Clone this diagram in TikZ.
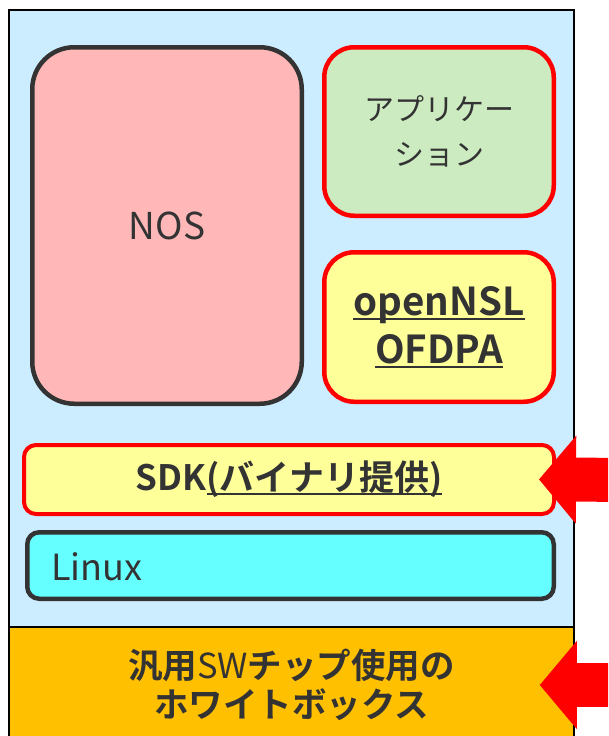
\documentclass[tikz,border=0pt]{standalone}
\usepackage{fontspec}
\setmainfont{Noto Sans CJK JP}[BoldFont={Noto Sans CJK JP Bold}]
\usetikzlibrary{arrows.meta}

\definecolor{textgray}{HTML}{333333}
\definecolor{bgblue}{HTML}{CCECFF}
\definecolor{nospink}{HTML}{FFB7B7}
\definecolor{appgreen}{HTML}{CCEBC0}
\definecolor{libyellow}{HTML}{FFFF99}
\definecolor{linuxcyan}{HTML}{66FFFF}
\definecolor{boxorange}{HTML}{FFC000}

% underline that crosses descenders
\newcommand{\ulx}[1]{\setbox0\hbox{#1}\rlap{\rule[-4.5pt]{\wd0}{2pt}}\box0}

\begin{document}
\begin{tikzpicture}[x=1pt,y=-1pt,
    layer/.style={rectangle, line width=4.5pt, draw=textgray, text=textgray,
        inner sep=0pt, rounded corners=#1},
    layer/.default=12pt,
    fatarrow/.style={red, line width=44pt, -{Triangle[length=37pt,width=86pt]}}]

% ---- Frame ----
\useasboundingbox (0,0) rectangle (608,736);
\fill[white] (0,0) rectangle (608,736);
\clip (0,0) rectangle (608,736);

% ---- Coordinates ----
\coordinate (arr1) at (640,480);   % SDK arrow start
\coordinate (arr2) at (640,685);   % whitebox arrow start

% ---- Board ----
\node[draw=black, line width=1.5pt, fill=bgblue, minimum width=565pt,
    minimum height=617pt, inner sep=0pt] (board) at (291.5,318.5) {};
\node[draw=black, line width=1.5pt, fill=boxorange, minimum width=565pt,
    minimum height=116pt, inner sep=0pt, text=textgray, align=center,
    font=\fontsize{34.5pt}{39pt}\selectfont\bfseries] (white) at (291.5,685)
    {汎用{\mdseries SW}チップ使用の\\ホワイトボックス};

% ---- Software layers ----
\node[layer=42pt, fill=nospink, minimum width=269.5pt, minimum height=356.5pt,
    font=\fontsize{37pt}{40pt}\selectfont] (nos) at (167,225.5) {NOS};
\node[layer=30pt, draw=red, fill=appgreen, minimum width=229.5pt,
    minimum height=168.5pt, align=center,
    font=\fontsize{30pt}{45pt}\selectfont] (app) at (439,131.5)
    {アプリケー\\ション};
\node[layer=30pt, draw=red, fill=libyellow, minimum width=229.5pt,
    minimum height=149.5pt, align=center,
    font=\fontsize{38.5pt}{48pt}\selectfont\bfseries] (nsl) at (439,327)
    {\ulx{openNSL}\\\ulx{OFDPA}};
\node[layer, line width=4pt, draw=red, fill=libyellow, minimum width=530pt,
    minimum height=69pt, font=\fontsize{35pt}{40pt}\selectfont\bfseries]
    (sdk) at (289,479.5) {SDK\ulx{(バイナリ提供)}};
\node[layer, fill=linuxcyan, minimum width=526.5pt, minimum height=66.5pt]
    (linux) at (290.5,565.5) {};
\node[anchor=west, inner sep=0pt, text=textgray,
    font=\fontsize{36pt}{40pt}\selectfont] (linuxlabel) at (51,567) {Linux};

% ---- Arrows ----
\draw[fatarrow, shorten >=-17pt] (arr1) -- (sdk.east);
\draw[fatarrow, shorten >=-35pt] (arr2) -- (white.east);

\end{tikzpicture}
\end{document}
